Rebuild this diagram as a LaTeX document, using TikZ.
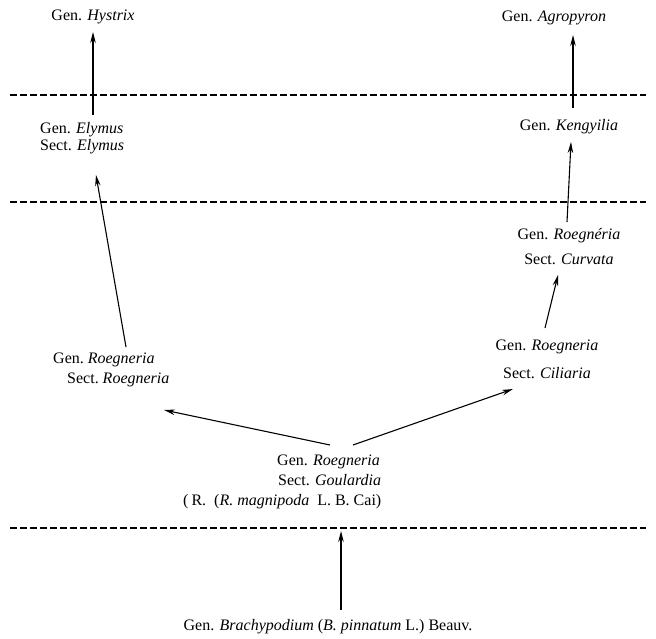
\documentclass[tikz,border=0pt]{standalone}
\usepackage{fontspec}
\setmainfont{Liberation Serif}
\usetikzlibrary{arrows.meta}
\tikzset{
  taxon/.style={inner sep=0pt, font=\fontsize{16}{17}\selectfont},
  arr/.style={line width=1.1pt, -{Stealth[length=11pt,width=5.5pt]}},
  level/.style={line width=1.3pt, dash pattern=on 6.5pt off 3.5pt}
}
\begin{document}
\begin{tikzpicture}[x=1pt,y=-1pt]
\useasboundingbox (0,0) rectangle (656,639);
% level lines
\draw[level] (10,95) -- (646,95);
\draw[level] (10,202) -- (646,202);
\draw[level] (10,528) -- (646,528);
% taxa
\node[taxon] (hys) at (93,17) {Gen. \textit{Hystrix}};
\node[taxon] (agr) at (554,18) {Gen. \textit{Agropyron}};
\node[taxon, anchor=west, align=left] (ely) at (40,138) {Gen. \textit{Elymus}\\Sect. \textit{Elymus}};
\node[taxon] (ken) at (569,127) {Gen. \textit{Kengyilia}};
\node[taxon, align=center] (cur) at (569,247) {Gen. \textit{Roegnéria}\\[8pt]Sect. \textit{Curvata}};
\node[taxon, anchor=west, align=left] (roL) at (53,370) {Gen.\ \textit{Roegneria}\\[3pt]\hspace*{14pt}Sect.\ \textit{Roegneria}};
\node[taxon, align=center] (cil) at (547,359) {Gen. \textit{Roegneria}\\[11pt]Sect. \textit{Ciliaria}};
\node[taxon, anchor=west, align=left] (gou) at (183,482) {\hspace*{94pt}Gen. \textit{Roegneria}\\[3pt]\hspace*{95pt}Sect. \textit{Goulardia}\\[3pt](\hspace{3pt}R.\hspace{8pt}(\textit{R.\ magnipoda}\ \ L.\ B.\ Cai)};
\node[taxon] (bra) at (328,627) {Gen. \textit{Brachypodium} (\textit{B. pinnatum} L.) Beauv.};
% connectors
\draw[arr] ([shift={(53,-23)}]ely.west) -- ([shift={(0,15)}]hys.center);
\draw[arr] ([shift={(73,-23)}]roL.west) -- ([shift={(56,37)}]ely.west);
\draw[arr] ([shift={(147,-37)}]gou.west) -- ([shift={(111,40)}]roL.west);
\draw[arr] ([shift={(170,-37)}]gou.west) -- ([shift={(-34,30)}]cil.center);
\draw[arr] ([shift={(-2,-31)}]cil.center) -- ([shift={(-11,28)}]cur.center);
\draw[arr] ([shift={(-2,-25)}]cur.center) -- ([shift={(2,15)}]ken.center);
\draw[arr] ([shift={(4,-19)}]ken.center) -- ([shift={(19,17)}]agr.center);
\draw[arr] ([shift={(13,-17)}]bra.center) -- ([shift={(158,49)}]gou.west);
\end{tikzpicture}
\end{document}
